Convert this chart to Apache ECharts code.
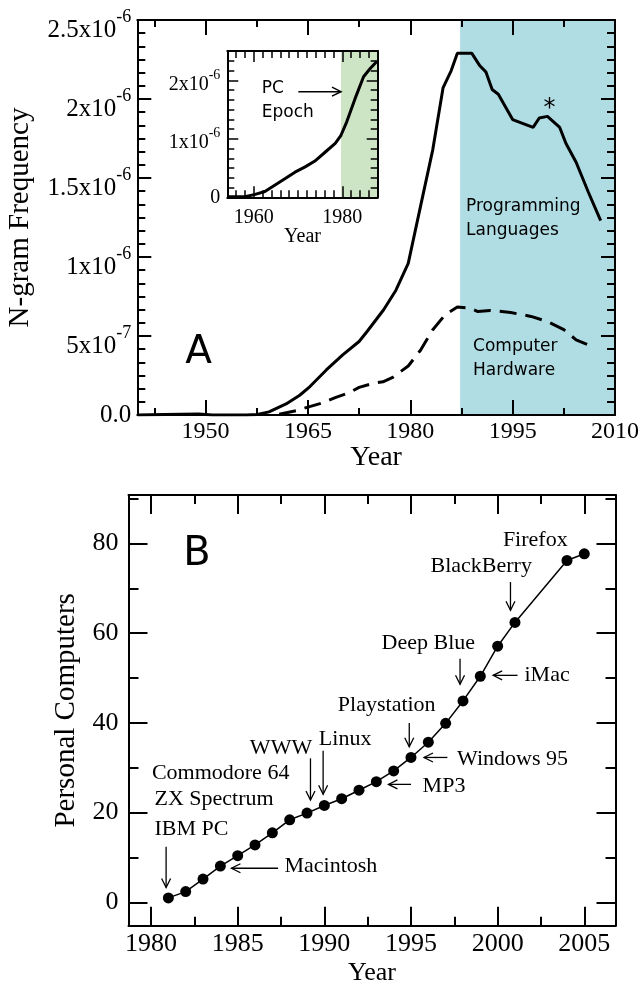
<!DOCTYPE html>
<html><head><meta charset="utf-8">
<script src="https://cdn.jsdelivr.net/npm/echarts@6/dist/echarts.min.js"></script>
<style>html,body{margin:0;padding:0;background:#fff}#c{width:640px;height:984px}</style>
</head><body><div id="c"></div><script>
// ---------- Panel A data (N-gram frequency, units of 1e-6) ----------
const plYears = [1940, 1944, 1949, 1951, 1956, 1957.6, 1959.3, 1961.8, 1963.8, 1965.3, 1967.7, 1970.1, 1972.5, 1973.7, 1976.1, 1977.9, 1979.7, 1980.3, 1981.5, 1983.3, 1984.8, 1986, 1986.9, 1989, 1990.2, 1991.1, 1992, 1992.9, 1995, 1998, 1998.9, 2000.1, 2001.9, 2002.8, 2004.3, 2006.1, 2007.9];
const plFreq  = [0.0, 0.003, 0.006, 0.0, 0.0, 0.003, 0.02, 0.07, 0.125, 0.18, 0.285, 0.38, 0.465, 0.53, 0.666, 0.79, 0.96, 1.08, 1.32, 1.68, 2.07, 2.18, 2.29, 2.29, 2.21, 2.17, 2.06, 2.03, 1.87, 1.82, 1.88, 1.89, 1.82, 1.72, 1.60, 1.41, 1.23];
const hwYears = [1960.8, 1963.3, 1965, 1967, 1969, 1971, 1972.5, 1974.5, 1976, 1977.5, 1979.7, 1981.5, 1983.3, 1985.1, 1986.9, 1988.7, 1989.9, 1991.7, 1994.7, 1997.7, 2000.1, 2002.5, 2004.3, 2006.1];
const hwFreq  = [0.005, 0.027, 0.05, 0.075, 0.11, 0.14, 0.175, 0.2, 0.21, 0.24, 0.31, 0.41, 0.54, 0.634, 0.683, 0.677, 0.655, 0.662, 0.649, 0.624, 0.592, 0.54, 0.476, 0.444];
const insetYears = [1954, 1958, 1960.3, 1962.5, 1964.8, 1967.1, 1969.3, 1971.6, 1973.8, 1976.1, 1978.4, 1979.7, 1981, 1982.9, 1984.8, 1986.3, 1987.8];
const insetFreq  = [0.01, 0.01, 0.05, 0.1, 0.21, 0.32, 0.43, 0.52, 0.62, 0.77, 0.92, 1.06, 1.29, 1.69, 2.06, 2.2, 2.32];
const plShade = [1987.3, 2010];      // Programming languages era
const pcEpoch = [1979.7, 1988];      // inset PC epoch
// ---------- Panel B data ----------
const pcYears  = [1981, 1982, 1983, 1984, 1985, 1986, 1987, 1988, 1989, 1990, 1991, 1992, 1993, 1994, 1995, 1996, 1997, 1998, 1999, 2000, 2001, 2004, 2005];
const pcCounts = [1.0, 2.4, 5.2, 8.1, 10.4, 12.8, 15.5, 18.4, 19.9, 21.6, 23.1, 25.0, 26.9, 29.3, 32.3, 35.7, 39.9, 44.9, 50.4, 57.1, 62.4, 76.2, 77.7];
// ---------- Tick labels ----------
const aXTicks = [1950, 1965, 1980, 1995, 2010];
const aXMinor = [1942.5, 1957.5, 1972.5, 1987.5, 2002.5];
const aYTicks = [0, 0.5, 1, 1.5, 2, 2.5];
const aYBase  = ['0.0', '5x10', '1x10', '1.5x10', '2x10', '2.5x10'];
const aYExp   = ['', '-7', '-6', '-6', '-6', '-6'];
const iXTicks = [1960, 1980];
const iYTicks = [0, 1, 2];
const iYBase  = ['0', '1x10', '2x10'];
const iYExp   = ['', '-6', '-6'];
const bXTicks = [1980, 1985, 1990, 1995, 2000, 2005];
const bXMinor = [1982.5, 1987.5, 1992.5, 1997.5, 2002.5];
const bYTicks = [0, 20, 40, 60, 80];
const bYMinor = [10, 30, 50, 70, 90];

const SERIF = '"Liberation Serif", "Times New Roman", serif';
const SANS = '"DejaVu Sans", Verdana, sans-serif';

const aYMinor = []; for (let i = 1; i < 30; i++) if (i % 6) aYMinor.push(i / 12);
const iXMinor = []; for (let y = 1956; y <= 1986; y += 2) if (y !== 1960 && y !== 1980) iXMinor.push(y);
const iYMinor = []; for (let i = 1; i < 15; i++) if (i % 6) iYMinor.push(i / 6);

function idx(arr, v) { return arr.findIndex(a => Math.abs(a - v) < 1e-9); }
const plain = v => String(Math.round(v));

function frameAxes(dim, gi, c) {
  const sides = dim === 'x' ? ['bottom', 'top'] : ['left', 'right'];
  const out = [];
  sides.forEach((side, k) => {
    const common = { type: 'value', gridIndex: gi, position: side, min: c.min, max: c.max, z: 5,
      splitLine: { show: false }, axisPointer: { show: false }, silent: true };
    const main = Object.assign({}, common, {
      axisLine: { show: true, onZero: false, lineStyle: { color: '#000', width: c.lw } },
      axisTick: { show: true, inside: true, length: c.majorLen, customValues: c.major, lineStyle: { color: '#000', width: c.tw } },
      axisLabel: (k === 0 && c.label) ? c.label : { show: false }
    });
    if (k === 0 && c.name) Object.assign(main, c.name);
    out.push(main);
    out.push(Object.assign({}, common, {
      axisLine: { show: false, onZero: false },
      axisTick: { show: true, inside: true, length: c.minorLen, customValues: c.minor, lineStyle: { color: '#000', width: c.tw } },
      axisLabel: { show: false }
    }));
  });
  return out;
}

function supLabel(ticks, base, exp, fs, ss, margin, supTop) {
  const H = 40, mt = Math.round(fs * 0.7);
  return {
    show: true, customValues: ticks, margin: margin, color: '#000',
    formatter: v => { const i = idx(ticks, v); if (i < 0) return ''; return exp[i] ? '{m|' + base[i] + '}{s|' + exp[i] + '}' : '{p|' + base[i] + '}'; },
    rich: {
      m: { fontFamily: SERIF, fontSize: fs, lineHeight: fs, padding: [mt, 0, H - fs - mt, 0], color: '#000' },
      s: { fontFamily: SERIF, fontSize: ss, lineHeight: ss, padding: [supTop, 0, H - ss - supTop, 0], color: '#000' },
      p: { fontFamily: SERIF, fontSize: fs, lineHeight: fs, color: '#000' }
    }
  };
}

const xAxes = [].concat(
  frameAxes('x', 0, { min: 1940, max: 2010, major: aXTicks, minor: aXMinor, majorLen: 15, minorLen: 7, lw: 2, tw: 2,
    label: { show: true, customValues: aXTicks, formatter: plain, fontFamily: SERIF, fontSize: 24, color: '#000', margin: 5 },
    name: { name: 'Year', nameLocation: 'middle', nameGap: 29, nameMoveOverlap: false, nameTextStyle: { fontFamily: SERIF, fontSize: 28, color: '#000' } } }),
  frameAxes('x', 1, { min: 1954, max: 1988, major: iXTicks, minor: iXMinor, majorLen: 11, minorLen: 7, lw: 2, tw: 1.5,
    label: { show: true, customValues: iXTicks, formatter: plain, fontFamily: SERIF, fontSize: 20, color: '#000', margin: 10 },
    name: { name: 'Year', nameLocation: 'middle', nameGap: 29, nameMoveOverlap: false, nameTextStyle: { fontFamily: SERIF, fontSize: 20, color: '#000' } } }),
  frameAxes('x', 2, { min: 1978.7, max: 2006.8, major: bXTicks, minor: bXMinor, majorLen: 19, minorLen: 9, lw: 2, tw: 2,
    label: { show: true, customValues: bXTicks, formatter: plain, fontFamily: SERIF, fontSize: 26, color: '#000', margin: 5 },
    name: { name: 'Year', nameLocation: 'middle', nameGap: 34, nameMoveOverlap: false, nameTextStyle: { fontFamily: SERIF, fontSize: 26, color: '#000' } } })
);
const yAxes = [].concat(
  frameAxes('y', 0, { min: 0, max: 2.5, major: aYTicks, minor: aYMinor, majorLen: 14, minorLen: 8, lw: 2, tw: 2,
    label: supLabel(aYTicks, aYBase, aYExp, 25, 18, 6, 8),
    name: { name: 'N-gram Frequency', nameLocation: 'middle', nameGap: 102, nameMoveOverlap: false, nameTextStyle: { fontFamily: SERIF, fontSize: 29, color: '#000' } } }),
  frameAxes('y', 1, { min: 0, max: 2.5, major: iYTicks, minor: iYMinor, majorLen: 11, minorLen: 7, lw: 2, tw: 1.5,
    label: supLabel(iYTicks, iYBase, iYExp, 20, 14, 7, 8) }),
  frameAxes('y', 2, { min: -5.2, max: 90.8, major: bYTicks, minor: bYMinor, majorLen: 19, minorLen: 10, lw: 2, tw: 2,
    label: { show: true, customValues: bYTicks, formatter: plain, fontFamily: SERIF, fontSize: 26, color: '#000', margin: 10 },
    name: { name: 'Personal Computers', nameLocation: 'middle', nameGap: 48, nameMoveOverlap: false, nameTextStyle: { fontFamily: SERIF, fontSize: 29, color: '#000' } } })
);

const zip = (a, b) => a.map((v, i) => [v, b[i]]);

const chart = echarts.init(document.getElementById('c'), null, { renderer: 'canvas', width: 640, height: 984 });
chart.setOption({
  animation: false,
  backgroundColor: '#fff',
  grid: [
    { left: 137.3, right: 25, top: 20, bottom: 569, containLabel: false, outerBoundsMode: 'none' },
    { left: 227.3, right: 262.3, top: 51, bottom: 786.7, containLabel: false, outerBoundsMode: 'none', show: true, backgroundColor: '#fff', borderWidth: 0, z: 1 },
    { left: 128.5, right: 24.5, top: 495, bottom: 58.3, containLabel: false, outerBoundsMode: 'none' }
  ],
  xAxis: xAxes,
  yAxis: yAxes,
  series: [
    { type: 'line', xAxisIndex: 0, yAxisIndex: 0, data: zip(plYears, plFreq), showSymbol: false, symbol: 'none', z: 3,
      lineStyle: { color: '#000', width: 3 },
      markArea: { silent: true, itemStyle: { color: '#b0dde3' }, data: [[{ xAxis: plShade[0] }, { xAxis: plShade[1] }]] } },
    { type: 'line', xAxisIndex: 0, yAxisIndex: 0, data: zip(hwYears, hwFreq), showSymbol: false, symbol: 'none', z: 3,
      lineStyle: { color: '#000', width: 3, type: [17, 9] } },
    { type: 'line', xAxisIndex: 4, yAxisIndex: 4, data: zip(insetYears, insetFreq), showSymbol: false, symbol: 'none', z: 3,
      lineStyle: { color: '#000', width: 3 },
      markArea: { silent: true, itemStyle: { color: '#cde5c4' }, data: [[{ xAxis: pcEpoch[0] }, { xAxis: pcEpoch[1] }]] } },
    { type: 'line', xAxisIndex: 8, yAxisIndex: 8, data: zip(pcYears, pcCounts), symbol: 'circle', symbolSize: 11, z: 3,
      lineStyle: { color: '#000', width: 1.5 }, itemStyle: { color: '#000' } }
  ]
});

// ---------- Annotations (data coordinates) ----------
const aNotes = [
  { t: 'Programming', x: 1988.17, y: 1.316, a: 'left', f: 17, fam: SANS },
  { t: 'Languages', x: 1988.17, y: 1.168, a: 'left', f: 17, fam: SANS },
  { t: 'Computer', x: 1989.2, y: 0.432, a: 'left', f: 17, fam: SANS },
  { t: 'Hardware', x: 1989.2, y: 0.282, a: 'left', f: 17, fam: SANS },
  { t: 'A', x: 1948.97, y: 0.396, a: 'center', f: 39, fam: SANS },
  { t: '*', x: 2000.4, y: 1.94, a: 'center', f: 24, fam: SANS }
];
const iNotes = [
  { t: 'PC', x: 1961.8, y: 1.851, a: 'left', f: 17, fam: SANS },
  { t: 'Epoch', x: 1961.8, y: 1.45, a: 'left', f: 17, fam: SANS }
];
const iArrows = [[1970.06, 1.805, 1979.7, 1.805]];
const bNotes = [
  { t: 'IBM PC', x: 1980.2, y: 16.4, a: 'left' },
  { t: 'ZX Spectrum', x: 1980.2, y: 22.9, a: 'left' },
  { t: 'Commodore 64', x: 1980.05, y: 28.8, a: 'left' },
  { t: 'WWW', x: 1987.5, y: 34.4, a: 'center' },
  { t: 'Linux', x: 1991.2, y: 36.3, a: 'center' },
  { t: 'Playstation', x: 1993.6, y: 44.0, a: 'center' },
  { t: 'Windows 95', x: 1997.66, y: 32.0, a: 'left' },
  { t: 'MP3', x: 1995.67, y: 26.0, a: 'left' },
  { t: 'Deep Blue', x: 1996.0, y: 57.8, a: 'center' },
  { t: 'iMac', x: 2001.55, y: 50.7, a: 'left' },
  { t: 'BlackBerry', x: 1999.05, y: 74.9, a: 'center' },
  { t: 'Firefox', x: 2002.17, y: 80.8, a: 'center' },
  { t: 'Macintosh', x: 1987.7, y: 8.1, a: 'left' }
];
const bLetter = { t: 'B', x: 1982.65, y: 77.46 };
const bArrows = [
  [1980.87, 12.4, 1980.87, 3.3],
  [1989.2, 32.1, 1989.2, 22.8],
  [1989.93, 33.8, 1989.93, 24.1],
  [1994.9, 40.0, 1994.9, 34.7],
  [1997.1, 32.3, 1995.75, 32.3],
  [1995.0, 26.3, 1993.7, 26.3],
  [1997.83, 54.3, 1997.83, 48.6],
  [2001.15, 50.6, 1999.74, 50.6],
  [2000.74, 71.4, 2000.74, 65.1],
  [1987.33, 7.6, 1984.64, 7.6]
];

function px(ax, pt) { return chart.convertToPixel({ xAxisIndex: ax, yAxisIndex: ax }, pt); }
const g = [];
function addText(ax, n, size, fam) {
  const p = px(ax, [n.x, n.y]);
  g.push({ type: 'text', x: p[0], y: p[1], z: 20, silent: true,
    style: { text: n.t, fill: '#000', fontSize: n.f || size, fontFamily: n.fam || fam, align: n.a || 'center', verticalAlign: 'middle' } });
}
function addArrow(ax, a, lw, L, W) {
  const s = px(ax, [a[0], a[1]]), e = px(ax, [a[2], a[3]]);
  const dx = e[0] - s[0], dy = e[1] - s[1], len = Math.hypot(dx, dy);
  const ux = dx / len, uy = dy / len, nx = -uy, ny = ux;
  g.push({ type: 'line', z: 20, silent: true, shape: { x1: s[0], y1: s[1], x2: e[0], y2: e[1] }, style: { stroke: '#000', lineWidth: lw } });
  g.push({ type: 'polyline', z: 20, silent: true,
    shape: { points: [[e[0] - ux * L + nx * W, e[1] - uy * L + ny * W], [e[0], e[1]], [e[0] - ux * L - nx * W, e[1] - uy * L - ny * W]] },
    style: { stroke: '#000', lineWidth: lw, fill: null } });
}
aNotes.forEach(n => addText(0, n));
iNotes.forEach(n => addText(4, n));
iArrows.forEach(a => addArrow(4, a, 1.5, 9, 4.5));
bNotes.forEach(n => addText(8, n, 22, SERIF));
addText(8, Object.assign({ f: 40, fam: SANS, a: 'center' }, bLetter));
bArrows.forEach(a => addArrow(8, a, 1.3, 9, 4.5));
chart.setOption({ graphic: g });
</script></body></html>
